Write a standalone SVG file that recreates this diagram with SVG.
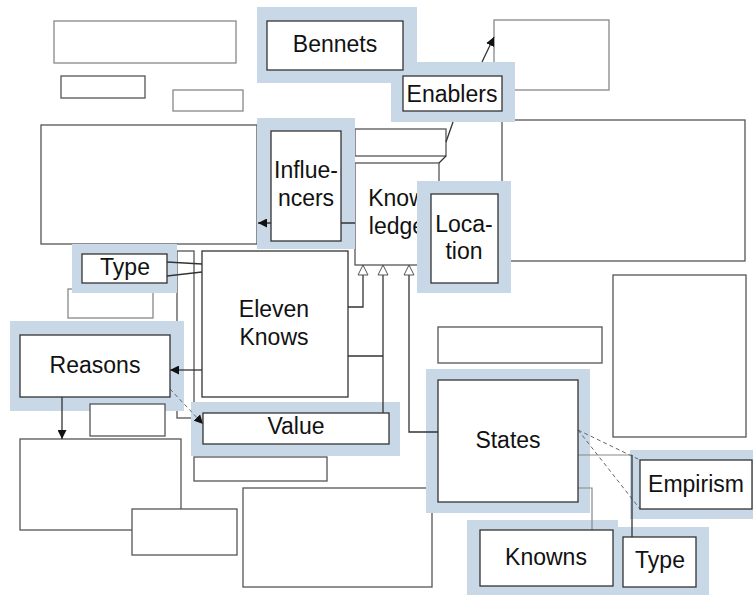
<svg xmlns="http://www.w3.org/2000/svg" width="753" height="595" viewBox="0 0 753 595">
<defs>
<style>
.bx{fill:#fff;stroke:#555;stroke-width:1.3}
.lt{fill:#fff;stroke:#888;stroke-width:1.3}
.hl{fill:#c9d8e7;stroke:none}
.nd{fill:#fff;stroke:#333;stroke-width:1.3}
.t{font-family:"Liberation Sans",Arial,sans-serif;font-size:23px;fill:#111;text-anchor:middle}
.c{fill:none;stroke:#333;stroke-width:1.3}
.cg{fill:none;stroke:#888;stroke-width:1.2}
.cd{fill:none;stroke:#666;stroke-width:1;stroke-dasharray:4 3}
</style>
<marker id="fa" viewBox="0 0 10 10" refX="10" refY="5" markerWidth="9" markerHeight="9" markerUnits="userSpaceOnUse" orient="auto">
<path d="M0,0 L10,5 L0,10 z" fill="#111"/>
</marker>
<marker id="ha" viewBox="0 0 12 12" refX="11" refY="6" markerWidth="12" markerHeight="12" markerUnits="userSpaceOnUse" orient="auto">
<path d="M1,1 L11,6 L1,11 z" fill="#fff" stroke="#555" stroke-width="1"/>
</marker>
</defs>
<rect width="753" height="595" fill="#fff"/>

<g id="plain-boxes">
<rect class="lt" x="54" y="21" width="182" height="42"/>
<rect class="bx" x="61" y="76" width="84" height="22"/>
<rect class="lt" x="173" y="90" width="70" height="21"/>
<rect class="lt" x="494" y="20" width="115" height="70"/>
<rect class="bx" x="41" y="125" width="216" height="119"/>
<rect class="bx" x="355" y="129" width="91" height="27"/>
<rect class="bx" x="502" y="120" width="243" height="141"/>
<rect class="lt" x="68" y="289" width="85" height="29"/>
<rect class="bx" x="177" y="251" width="17" height="167"/>
<rect class="bx" x="613" y="275" width="133" height="162"/>
<rect class="bx" x="438" y="327" width="164" height="36"/>
<rect class="bx" x="20" y="439" width="161" height="91"/>
<rect class="bx" x="194" y="457" width="133" height="24"/>
<rect class="bx" x="243" y="488" width="189" height="99"/>
</g>

<g id="knowledge">
<rect class="bx" x="355" y="163" width="84" height="102"/>
<text class="t" x="397" y="206">Know</text>
<text class="t" x="397" y="234">ledge</text>
</g>

<g id="highlights">
<rect class="hl" x="257" y="7" width="160" height="76"/>
<rect class="hl" x="391" y="62" width="124" height="60"/>
<rect class="hl" x="257" y="118" width="98" height="131"/>
<rect class="hl" x="417" y="181" width="94" height="112"/>
<rect class="hl" x="72" y="244" width="105" height="49"/>
<rect class="hl" x="10" y="321" width="174" height="90"/>
<rect class="hl" x="191" y="402" width="209" height="54"/>
<rect class="hl" x="426" y="369" width="164" height="144"/>
<rect class="hl" x="630" y="450" width="123" height="69"/>
<rect class="hl" x="467" y="520" width="151" height="75"/>
<rect class="hl" x="618" y="527" width="91" height="68"/>
</g>

<g id="connectors">
<line class="c" x1="482" y1="62" x2="494" y2="37" marker-end="url(#fa)"/>
<line class="c" x1="453" y1="122" x2="446" y2="142"/>
<line class="c" x1="446" y1="156" x2="439" y2="163"/>
<line class="c" x1="355" y1="223" x2="258" y2="223" marker-end="url(#fa)"/>
<line class="c" x1="167" y1="262" x2="202" y2="264"/>
<line class="c" x1="167" y1="276" x2="202" y2="272"/>
<line class="c" x1="202" y1="370" x2="170" y2="370" marker-end="url(#fa)"/>
<line class="c" x1="62" y1="397" x2="62" y2="439" marker-end="url(#fa)"/>
<line class="cd" x1="170" y1="389" x2="203" y2="424" marker-end="url(#fa)"/>
<polyline class="c" points="348,307 363,307 363,265" marker-end="url(#ha)"/>
<polyline class="c" points="383,413 383,265" marker-end="url(#ha)"/>
<line class="c" x1="348" y1="356" x2="383" y2="356"/>
<polyline class="c" points="438,432 409,432 409,265" marker-end="url(#ha)"/>
<line class="cd" x1="578" y1="430" x2="640" y2="460"/>
<line class="cd" x1="578" y1="430" x2="640" y2="509"/>
<polyline class="cg" points="578,455 632,455"/>
<line class="c" x1="632" y1="455" x2="632" y2="537"/>
<polyline class="cg" points="578,488 592,488 592,530"/>
</g>

<g id="box-small-overlay">
<rect class="bx" x="90" y="404" width="75" height="32"/>
<rect class="bx" x="132" y="509" width="105" height="46"/>
</g>

<g id="eleven-knows">
<rect class="nd" x="202" y="251" width="146" height="146"/>
<text class="t" x="274" y="317">Eleven</text>
<text class="t" x="274" y="345">Knows</text>
</g>

<g id="bennets">
<rect class="nd" x="267" y="21" width="136" height="49"/>
<text class="t" x="335" y="52">Bennets</text>
</g>
<g id="enablers">
<rect class="nd" x="403" y="76" width="99" height="35"/>
<text class="t" x="452" y="102">Enablers</text>
</g>
<g id="influencers">
<rect class="nd" x="271" y="131" width="70" height="110"/>
<text class="t" x="306" y="178">Influe-</text>
<text class="t" x="306" y="206">ncers</text>
</g>
<g id="location">
<rect class="nd" x="431" y="194" width="67" height="89"/>
<text class="t" x="464" y="232">Loca-</text>
<text class="t" x="464" y="259">tion</text>
</g>
<g id="type-left">
<rect class="nd" x="82" y="254" width="85" height="29"/>
<text class="t" x="125" y="275">Type</text>
</g>
<g id="reasons">
<rect class="nd" x="20" y="335" width="150" height="62"/>
<text class="t" x="95" y="373">Reasons</text>
</g>
<g id="value">
<rect class="nd" x="203" y="413" width="186" height="31"/>
<text class="t" x="296" y="434">Value</text>
</g>
<g id="states">
<rect class="nd" x="438" y="380" width="140" height="122"/>
<text class="t" x="508" y="448">States</text>
</g>
<g id="empirism">
<rect class="nd" x="640" y="460" width="112" height="49"/>
<text class="t" x="696" y="492">Empirism</text>
</g>
<g id="knowns">
<rect class="nd" x="480" y="530" width="133" height="56"/>
<text class="t" x="546" y="565">Knowns</text>
</g>
<g id="type-right">
<rect class="nd" x="623" y="537" width="73" height="50"/>
<text class="t" x="660" y="568">Type</text>
</g>
</svg>
